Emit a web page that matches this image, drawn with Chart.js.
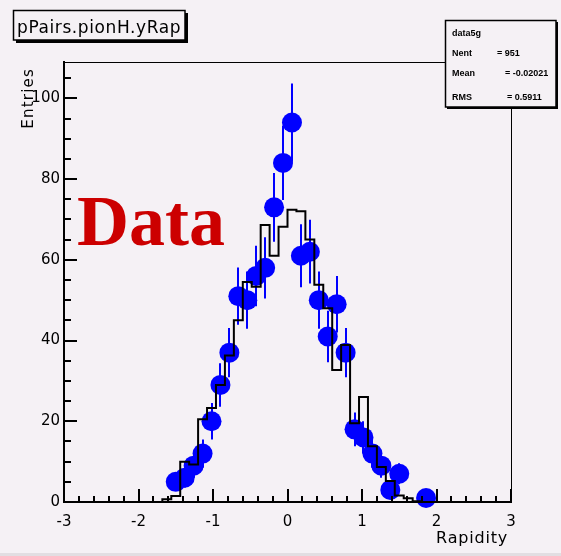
<!DOCTYPE html>
<html>
<head>
<meta charset="utf-8">
<script src="https://cdn.jsdelivr.net/npm/chart.js@4.4.1/dist/chart.umd.min.js"></script>
<style>
  html, body { margin: 0; padding: 0; background: #f5f1f5; }
  #wrap { width: 561px; height: 556px; }
</style>
</head>
<body>
<div id="wrap"><canvas id="rapChart" width="561" height="556"></canvas></div>
<script>
// histogram bins (0.12 wide), only the filled part of -3..3
const binCenters = [-1.86, -1.74, -1.62, -1.50, -1.38, -1.26, -1.14, -1.02, -0.90, -0.78,
                    -0.66, -0.54, -0.42, -0.30, -0.18, -0.06, 0.06, 0.18, 0.30, 0.42,
                    0.54, 0.66, 0.78, 0.90, 1.02, 1.14, 1.26, 1.38, 1.50, 1.62,
                    1.74, 1.86, 1.98, 2.10];
const mcCounts = [0, 0, 0.7, 1.5, 10, 9.3, 20.5, 23.3, 29, 36.3,
                  45, 54.5, 53.3, 68.6, 61, 68.2, 72.4, 72, 65, 53.8,
                  48, 32.7, 38.9, 19.5, 26, 13.8, 8.7, 5.2, 1.6, 0.9,
                  0.2, 0, 0, 0];
const dataCounts = [null, null, null, 5, 6, 9, 12, 20, 29, 37,
                    51, 50, 56, 58, 73, 84, 94, 61, 62, 50,
                    41, 49, 37, 18, 16, 12, 9, 3, 7, null,
                    null, 1, null, null];
const dataErrors = [null, null, null, 2.2, 2.4, 3, 3.5, 4.5, 5.4, 6.1,
                    7.1, 7.1, 7.5, 7.6, 8.5, 9.2, 9.7, 7.8, 7.9, 7.1,
                    6.4, 7, 6.1, 4.2, 4, 3.5, 3, 1.7, 2.6, null,
                    null, 1, null, null];

const histTitle = 'pPairs.pionH.yRap';
const statsName = 'data5g';
const statsLabels = ['Nent', 'Mean', 'RMS'];
const statsValues = ['951', '-0.02021', '0.5911'];
const xTitle = 'Rapidity';
const yTitle = 'Entries';
const overlayText = 'Data';

const BG = '#f5f1f5';
const BLUE = '#0000ff';

const background = {
    id: 'background',
    beforeDraw(chart) {
        const ctx = chart.ctx;
        ctx.save();
        ctx.fillStyle = BG;
        ctx.fillRect(0, 0, chart.width, chart.height);
        ctx.fillStyle = '#e2dee2';
        ctx.fillRect(0, 553, chart.width, 3);
        ctx.restore();
    }
};

const errorBars = {
    id: 'errorBars',
    beforeDatasetsDraw(chart) {
        const { ctx, scales: { x, y } } = chart;
        ctx.save();
        ctx.strokeStyle = BLUE;
        ctx.lineWidth = 2;
        dataCounts.forEach((v, i) => {
            if (v == null) return;
            const px = Math.round(x.getPixelForValue(binCenters[i]));
            ctx.beginPath();
            ctx.moveTo(px, y.getPixelForValue(v - dataErrors[i]));
            ctx.lineTo(px, y.getPixelForValue(v + dataErrors[i]));
            ctx.stroke();
        });
        ctx.restore();
    }
};

const rootFrame = {
    id: 'rootFrame',
    afterDraw(chart) {
        const { ctx, chartArea: a, scales: { x, y } } = chart;
        ctx.save();
        // frame
        ctx.strokeStyle = '#000';
        ctx.lineWidth = 1;
        ctx.strokeRect(a.left + 0.5, a.top + 0.5, a.right - a.left, a.bottom - a.top);

        // inward ticks
        ctx.lineWidth = 2;
        ctx.beginPath();
        for (let i = 0; i <= 30; i++) {
            const px = Math.round(x.getPixelForValue(-3 + i * 0.2));
            const len = i % 5 === 0 ? 13 : 6;
            ctx.moveTo(px, a.bottom);
            ctx.lineTo(px, a.bottom - len);
        }
        for (let i = 0; i <= 21; i++) {
            const py = Math.round(y.getPixelForValue(i * 5));
            const len = i % 4 === 0 ? 13 : 7;
            ctx.moveTo(a.left, py);
            ctx.lineTo(a.left + len, py);
        }
        ctx.stroke();

        // axis titles
        ctx.fillStyle = '#000';
        ctx.font = '16px "DejaVu Sans"';
        ctx.letterSpacing = '0.8px';
        ctx.textAlign = 'right';
        ctx.textBaseline = 'alphabetic';
        ctx.fillText(xTitle, 508, 543);

        ctx.save();
        ctx.translate(33, 68);
        ctx.rotate(-Math.PI / 2);
        ctx.font = '15px "DejaVu Sans"';
        ctx.letterSpacing = '1.2px';
        ctx.textAlign = 'right';
        ctx.fillText(yTitle, 0, 0);
        ctx.restore();

        // title box
        ctx.letterSpacing = '0px';
        ctx.fillStyle = BG;
        ctx.fillRect(13, 10, 172, 30);
        ctx.fillStyle = '#000';
        ctx.fillRect(16, 40, 172, 3);
        ctx.fillRect(185, 13, 3, 30);
        ctx.lineWidth = 1.5;
        ctx.strokeRect(13.5, 10.5, 171.5, 29.5);
        ctx.font = '17px "DejaVu Sans"';
        ctx.letterSpacing = '0.6px';
        ctx.textAlign = 'left';
        ctx.fillText(histTitle, 17, 33);

        // stats box
        ctx.letterSpacing = '0px';
        ctx.fillStyle = BG;
        ctx.fillRect(445, 20, 111, 87);
        ctx.fillStyle = '#000';
        ctx.fillRect(447, 107, 111, 2);
        ctx.fillRect(556, 22, 2, 87);
        ctx.lineWidth = 1.5;
        ctx.strokeRect(445.5, 20.5, 110.5, 86.5);
        ctx.font = 'bold 9px "Liberation Sans"';
        ctx.textAlign = 'left';
        ctx.fillText(statsName, 452, 36);
        const rowsY = [56, 76, 100];
        const eqX = [497, 505, 507];
        statsLabels.forEach((lab, i) => {
            ctx.fillText(lab, 452, rowsY[i]);
            ctx.fillText('= ' + statsValues[i], eqX[i], rowsY[i]);
        });

        // red overlay label
        ctx.fillStyle = '#cc0000';
        ctx.font = 'bold 72px "Liberation Serif"';
        ctx.fillText(overlayText, 77, 245);
        ctx.restore();
    }
};

new Chart(document.getElementById('rapChart'), {
    type: 'line',
    data: {
        datasets: [
            {
                label: 'MC',
                data: binCenters.map((c, i) => ({ x: c, y: mcCounts[i] })),
                stepped: 'middle',
                borderColor: '#000',
                borderWidth: 2,
                pointRadius: 0,
                fill: false
            },
            {
                label: 'data5g',
                data: binCenters.map((c, i) => ({ x: c, y: dataCounts[i] })),
                showLine: false,
                pointRadius: 10,
                pointBorderWidth: 0,
                pointBackgroundColor: BLUE,
                pointBorderColor: BLUE,
                clip: false
            }
        ]
    },
    options: {
        responsive: false,
        animation: false,
        devicePixelRatio: 1,
        layout: { padding: { left: 0, top: 62, right: 50, bottom: 0 } },
        plugins: { legend: { display: false }, tooltip: { enabled: false } },
        scales: {
            x: {
                type: 'linear',
                min: -3,
                max: 3,
                afterFit: s => { s.height = 54; },
                grid: { display: false, drawTicks: false },
                border: { display: true, color: '#000', width: 2 },
                ticks: {
                    stepSize: 1,
                    padding: 11,
                    color: '#000',
                    font: { family: 'DejaVu Sans', size: 15 },
                    callback: v => String(v)
                }
            },
            y: {
                type: 'linear',
                min: 0,
                max: 109,
                afterFit: s => { s.width = 64; },
                grid: { display: false, drawTicks: false },
                border: { display: true, color: '#000', width: 2 },
                ticks: {
                    stepSize: 20,
                    includeBounds: false,
                    padding: 4,
                    color: '#000',
                    font: { family: 'DejaVu Sans', size: 15 },
                    callback: v => String(v)
                }
            }
        }
    },
    plugins: [background, errorBars, rootFrame]
});
</script>
</body>
</html>
